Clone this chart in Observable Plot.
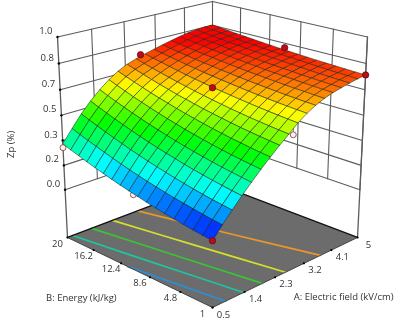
<!DOCTYPE html>
<html>
<head>
<meta charset="utf-8">
<script src="https://cdn.jsdelivr.net/npm/d3@7"></script>
<script src="https://cdn.jsdelivr.net/npm/@observablehq/plot@0.6"></script>
<style>
html,body{margin:0;padding:0;background:#fff;overflow:hidden}
svg{display:block;filter:blur(.4px)}
</style>
</head>
<body>
<div id="chart"></div>
<script>
const aTicks=[0.5,1.4,2.3,3.2,4.1,5];
const bTicks=[1,4.8,8.6,12.4,16.2,20];
const zTicks=[0,1/6,2/6,3/6,4/6,5/6,1];
const zLabels=["0.0","0.2","0.3","0.5","0.7","0.8","1.0"];
const zFloor=-1/3;
const contourColors=["#2b8fd6","#1fc4a0","#35c832","#d4e02a","#e8962e"];
const contourA=[[0.86,0.5],[1.37,1.0,0.64],[1.92,1.55,1.18],[2.62,2.2,1.79],[3.74,3.10,2.55]];
const contourB=[[1,11.5],[1,10.5,20],[1,10.5,20],[1,10.5,20],[1,10.9,20]];
const designA=[0.5,0.5,2.75,0.5,2.75,5,5,2.75];
const designB=[1,20,1,10.5,10.5,1,10.5,20];
const designZ=[0.085,0.286,0.541,0.164,0.679,0.761,0.803,0.756];
const designOpen=[false,true,true,true,false,false,false,false];
const zRows=[
[.085,.156,.222,.286,.345,.402,.456,.507,.555,.604,.644,.675,.700,.718,.731,.743,.753,.761],
[.092,.163,.230,.294,.353,.410,.463,.514,.561,.609,.648,.678,.703,.721,.734,.746,.756,.763],
[.100,.172,.238,.303,.362,.418,.471,.521,.567,.614,.652,.682,.707,.724,.737,.749,.758,.766],
[.109,.181,.248,.312,.371,.427,.480,.529,.574,.620,.657,.686,.710,.728,.741,.752,.762,.769],
[.118,.191,.258,.323,.382,.437,.489,.537,.581,.626,.662,.691,.714,.732,.744,.756,.765,.772],
[.128,.201,.270,.334,.393,.448,.500,.547,.590,.633,.668,.696,.719,.736,.749,.760,.769,.775],
[.139,.213,.282,.346,.405,.460,.511,.557,.598,.640,.674,.701,.724,.740,.753,.764,.773,.779],
[.151,.225,.295,.360,.418,.473,.523,.568,.608,.648,.681,.707,.729,.745,.758,.769,.777,.783],
[.164,.238,.309,.374,.432,.486,.536,.579,.618,.656,.688,.713,.734,.751,.763,.773,.781,.787],
[.177,.252,.323,.388,.447,.501,.549,.592,.629,.665,.695,.720,.740,.756,.768,.779,.786,.791],
[.191,.267,.339,.404,.463,.516,.563,.605,.640,.674,.703,.726,.746,.762,.774,.784,.791,.796],
[.206,.283,.355,.421,.479,.532,.579,.618,.652,.684,.711,.734,.753,.768,.780,.790,.797,.801],
[.222,.299,.373,.438,.497,.549,.594,.633,.665,.694,.720,.741,.760,.775,.786,.796,.802,.806],
[.238,.317,.391,.457,.515,.567,.611,.648,.678,.705,.729,.749,.767,.781,.793,.802,.808,.812],
[.255,.335,.410,.476,.534,.585,.629,.664,.692,.717,.739,.758,.774,.789,.800,.809,.815,.817],
[.274,.354,.430,.496,.554,.605,.647,.681,.706,.729,.749,.766,.782,.796,.807,.816,.821,.823],
[.292,.373,.450,.517,.575,.625,.666,.698,.721,.741,.759,.775,.790,.804,.815,.823,.828,.830],
[.312,.394,.472,.539,.597,.646,.686,.716,.737,.754,.770,.785,.799,.812,.823,.831,.835,.836]
];
const wallGrey="#5c5c5c";
const floorGrey="#6c6c6c";

// camera: perspective box, unit coordinates (u along A, v along B, t along z)
const cam={k:164.8,a:0.1364,c:-0.0732,e:-37.7,f:-230.5,x0:212,y0:307};
function project(u,v,t){
  const s=u+v, w=1+cam.a*s+cam.c*t;
  return [cam.x0+cam.k*(u-v)/w,(cam.y0+cam.e*s+cam.f*t)/w];
}
const U=a=>(a-aTicks[0])/(aTicks[5]-aTicks[0]);
const V=b=>(b-bTicks[0])/(bTicks[5]-bTicks[0]);
const T=z=>(z-zFloor)/(1-zFloor);
const P=(a,b,z)=>project(U(a),V(b),T(z));
const A0=aTicks[0],A1=aTicks[5],B0=bTicks[0],B1=bTicks[5];
const pt=(a,b,z,extra={})=>{const [px,py]=P(a,b,z);return {px,py,...extra};};
const segs=list=>list.flatMap((s,i)=>[pt(...s[0],{id:i}),pt(...s[1],{id:i})]);

// walls
const wallSegs=segs([
  ...zTicks.map(z=>[[A0,B1,z],[A1,B1,z]]),
  ...zTicks.map(z=>[[A1,B1,z],[A1,B0,z]]),
  ...aTicks.slice(1).map(a=>[[a,B1,0],[a,B1,1]]),
  ...bTicks.slice(0,5).map(b=>[[A1,b,0],[A1,b,1]])
]);
const axisSegs=segs([[[A0,B1,zFloor],[A0,B1,1]],[[A1,B0,zFloor],[A1,B0,1]]]);
const floorPoly=[[A0,B0],[A1,B0],[A1,B1],[A0,B1]].map(([a,b])=>pt(a,b,zFloor));
const floorBack=segs([[[A0,B1,zFloor],[A1,B1,zFloor]],[[A1,B1,zFloor],[A1,B0,zFloor]]]);
const floorFront=segs([[[A0,B0,zFloor],[A1,B0,zFloor]],[[A0,B0,zFloor],[A0,B1,zFloor]]]);

// contours on the floor
const contourPts=contourA.flatMap((as,k)=>as.map((a,n)=>pt(a,contourB[k][n],zFloor,{k})));

// surface cells, far ones first
const nCols=zRows[0].length,nRows=zRows.length;
const aAt=i=>A0+(A1-A0)*i/(nCols-1);
const bAt=j=>B0+(B1-B0)*j/(nRows-1);
const cells=[];
for(let j=nRows-2;j>=0;j--)for(let i=nCols-2;i>=0;i--){
  const mean=(zRows[j][i]+zRows[j][i+1]+zRows[j+1][i]+zRows[j+1][i+1])/4;
  cells.push({i,j,mean});
}
cells.sort((p,q)=>(q.i+q.j)-(p.i+p.j));
const cellPts=cells.flatMap((c,n)=>[[c.i,c.j],[c.i+1,c.j],[c.i+1,c.j+1],[c.i,c.j+1],[c.i,c.j]]
  .map(([i,j])=>pt(aAt(i),bAt(j),zRows[j][i],{n,mean:c.mean})));

// design points
const design=designA.map((a,n)=>pt(a,designB[n],designZ[n],{open:designOpen[n],a,b:designB[n]}));
const stems=design.filter(d=>d.open).flatMap((d,n)=>{
  const i=Math.round(U(d.a)*(nCols-1)),j=Math.round(V(d.b)*(nRows-1));
  return [{px:d.px,py:d.py,n},pt(d.a,d.b,zRows[j][i],{n})];
});

// ticks and labels
const zTickPts=zTicks.map((z,n)=>pt(A0,B1,z,{label:zLabels[n]}));
const aTickPts=aTicks.map(a=>pt(a,B0,zFloor,{label:String(a)}));
const bTickPts=bTicks.map(b=>pt(A0,b,zFloor,{label:String(b)}));

const lineOpt={x:"px",y:"py",z:"id"};
const font={fontFamily:"'Open Sans',sans-serif",fontSize:9.5,fill:"#333"};
const chart=Plot.plot({
  width:400,height:323,margin:0,
  x:{domain:[0,400],range:[0,400],axis:null},
  y:{domain:[0,323],range:[0,323],axis:null},
  color:{type:"linear",interpolate:"rgb",clamp:true,domain:[.085,.27,.45,.63,.80],
    range:["#0000ff","#00ffff","#00ff00","#ffff00","#ff0000"]},
  style:{background:"#fff"},
  marks:[
    Plot.line(wallSegs,{...lineOpt,stroke:wallGrey,strokeWidth:1.1}),
    Plot.line(axisSegs,{...lineOpt,stroke:wallGrey,strokeWidth:1.3}),
    Plot.line([...floorPoly,floorPoly[0]],{x:"px",y:"py",fill:floorGrey,stroke:"none"}),
    Plot.line(contourPts,{x:"px",y:"py",z:"k",stroke:d=>contourColors[d.k],strokeWidth:1.7,curve:"catmull-rom"}),
    Plot.line(floorBack,{...lineOpt,stroke:"#111",strokeWidth:1.3}),
    Plot.line(floorFront,{...lineOpt,stroke:"#444",strokeWidth:1}),
    Plot.dot(aTickPts,{x:"px",y:"py",r:1.1,fill:"#000"}),
    Plot.dot(bTickPts,{x:"px",y:"py",r:1.1,fill:"#000"}),
    Plot.dot(zTickPts,{x:"px",y:"py",r:1.2,fill:"#000"}),
    Plot.line(stems,{x:"px",y:"py",z:"n",stroke:"#555",strokeWidth:.8}),
    Plot.dot(design.filter(d=>d.open),{x:"px",y:"py",r:3,fill:"#fbeeee",stroke:"#9a5a5a",strokeWidth:1}),
    Plot.line(cellPts,{x:"px",y:"py",z:"n",fill:"mean",stroke:"#1c2a1c",strokeWidth:.55,strokeLinejoin:"round"}),
    Plot.dot(design.filter(d=>!d.open),{x:"px",y:"py",r:3.2,fill:"#b4101a",stroke:"#6a0a10",strokeWidth:.8}),
    Plot.text(zTickPts,{x:"px",y:"py",text:"label",dx:-5,dy:-6,textAnchor:"end",...font}),
    Plot.text(aTickPts,{x:"px",y:"py",text:"label",dx:11,dy:7,...font}),
    Plot.text(bTickPts,{x:"px",y:"py",text:"label",dx:-10,dy:6,...font}),
    Plot.text([pt(A0,B1,0.5)],{x:"px",y:"py",text:()=>"Zp (%)",dx:-50,dy:29,rotate:-90,...font}),
    Plot.text([pt(A0,10.5,zFloor)],{x:"px",y:"py",text:()=>"B: Energy (kJ/kg)",dx:-54,dy:28,...font}),
    Plot.text([pt(2.75,B0,zFloor)],{x:"px",y:"py",text:()=>"A: Electric field (kV/cm)",dx:54,dy:27,...font})
  ]
});
document.getElementById("chart").appendChild(chart);
</script>
</body>
</html>
